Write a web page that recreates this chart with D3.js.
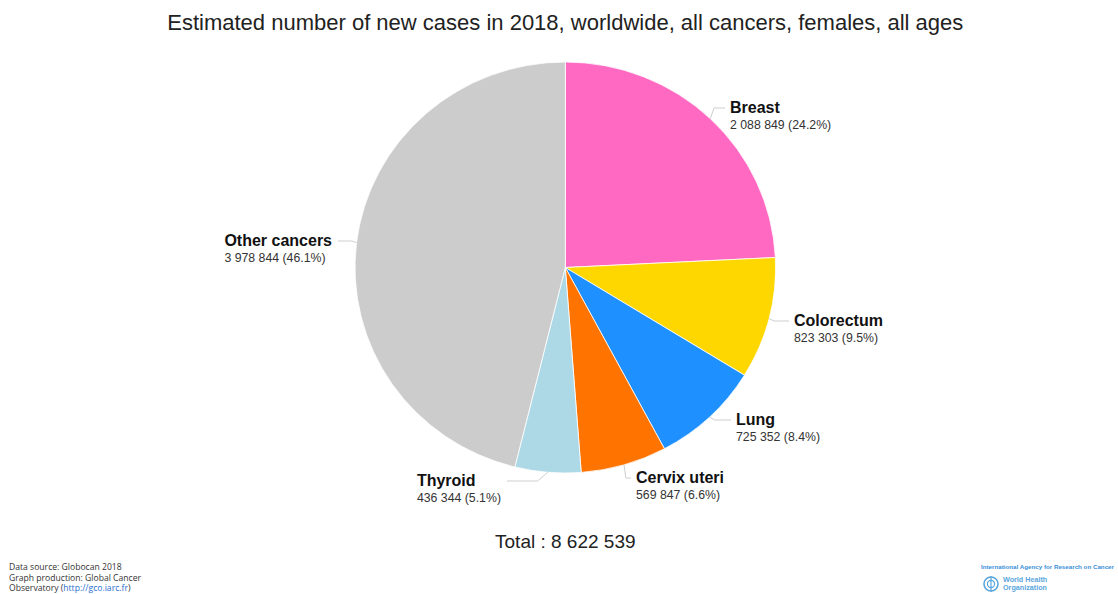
<!DOCTYPE html>
<html>
<head>
<meta charset="utf-8">
<script src="https://cdn.jsdelivr.net/npm/d3@7"></script>
<style>
  html, body { margin: 0; padding: 0; background: #ffffff; }
  svg { display: block; }
</style>
</head>
<body>
<script>
// Cancer sites, clockwise from 12 o'clock
const categories = ["Breast", "Colorectum", "Lung", "Cervix uteri", "Thyroid", "Other cancers"];
const cases = [2088849, 823303, 725352, 569847, 436344, 3978844];
const sliceColors = ["#ff69c1", "#ffd700", "#1e90ff", "#ff7300", "#add8e6", "#cccccc"];
const titleText = "Estimated number of new cases in 2018, worldwide, all cancers, females, all ages";
const totalCases = 8622539;

// Where each label's connector ends (label side, x, y)
const labelLayout = [
  { side: "right", x: 725, y: 108 },
  { side: "right", x: 789, y: 321 },
  { side: "right", x: 731, y: 420 },
  { side: "right", x: 631, y: 478 },
  { side: "left",  x: 507, y: 481 },
  { side: "left",  x: 338, y: 241 }
];

const W = 1118, H = 594;
const cx = 565.3, cy = 267.5;
const ry = 205.5, rx = 210.3;
const sx = rx / ry;

const fmt = n => String(n).replace(/\B(?=(\d{3})+(?!\d))/g, " ");
const pct = n => (n / totalCases * 100).toFixed(1) + "%";

const svg = d3.select("body").append("svg")
  .attr("width", W).attr("height", H)
  .style("font-family", "'Liberation Sans', Arial, sans-serif");

svg.append("text")
  .attr("x", cx).attr("y", 30)
  .attr("text-anchor", "middle")
  .attr("font-size", 22)
  .attr("fill", "#222")
  .text(titleText);

const pie = d3.pie().sort(null).value(d => d.value).startAngle(0).endAngle(2 * Math.PI);
const arcs = pie(categories.map((c, i) => ({ name: c, value: cases[i], color: sliceColors[i] })));
const arcGen = d3.arc().innerRadius(0).outerRadius(ry);

const g = svg.append("g").attr("transform", `translate(${cx},${cy}) scale(${sx},1)`);
g.selectAll("path").data(arcs).join("path")
  .attr("d", arcGen)
  .attr("fill", d => d.data.color)
  .attr("stroke", "#ffffff")
  .attr("stroke-width", 0.8)
  .attr("vector-effect", "non-scaling-stroke");

// Connectors: from the rim at each slice's mid angle, crook, then to label
const conn = svg.append("g");
arcs.forEach((d, i) => {
  const a = (d.startAngle + d.endAngle) / 2;
  const px = cx + rx * Math.sin(a);
  const py = cy - ry * Math.cos(a);
  const L = labelLayout[i];
  const bx = px + 0.25 * (L.x - px);
  conn.append("path")
    .attr("d", `M${px},${py}L${bx},${L.y}L${L.x},${L.y}`)
    .attr("fill", "none")
    .attr("stroke", "#cfcfcf")
    .attr("stroke-width", 1);

  const right = L.side === "right";
  const tx = right ? L.x + 5 : L.x - 6;
  const lab = svg.append("g");
  const nameT = lab.append("text")
    .attr("x", tx).attr("y", L.y + 5)
    .attr("font-size", 16).attr("font-weight", "bold").attr("fill", "#111")
    .text(d.data.name);
  const valT = lab.append("text")
    .attr("x", tx).attr("y", L.y + 21)
    .attr("font-size", 12.3).attr("fill", "#333")
    .text(`${fmt(d.data.value)} (${pct(d.data.value)})`);
  if (!right) {
    // Left-side labels: text block ends at the connector, left-aligned within block
    const w = Math.max(nameT.node().getComputedTextLength(), valT.node().getComputedTextLength());
    nameT.attr("x", tx - w);
    valT.attr("x", tx - w);
  }
});

svg.append("text")
  .attr("x", cx).attr("y", 548)
  .attr("text-anchor", "middle")
  .attr("font-size", 19)
  .attr("fill", "#222")
  .text("Total : " + fmt(totalCases));

// Source notes
const notes = svg.append("g")
  .style("font-family", "'Open Sans', 'Noto Sans', sans-serif")
  .attr("font-size", 8.6).attr("fill", "#333");
notes.append("text").attr("x", 9).attr("y", 570).text("Data source: Globocan 2018");
notes.append("text").attr("x", 9).attr("y", 581).text("Graph production: Global Cancer");
const l3 = notes.append("text").attr("x", 9).attr("y", 591);
l3.append("tspan").text("Observatory (");
l3.append("tspan").attr("fill", "#2a6fd0").text("http://gco.iarc.fr");
l3.append("tspan").text(")");

// Agency marks
const agency = svg.append("g").style("font-family", "'Liberation Sans', Arial, sans-serif");
agency.append("text")
  .attr("x", 1114).attr("y", 569)
  .attr("text-anchor", "end")
  .attr("font-size", 6.2).attr("font-weight", "bold").attr("fill", "#3a8fd8")
  .attr("textLength", 133).attr("lengthAdjust", "spacingAndGlyphs")
  .text("International Agency for Research on Cancer");
const emb = agency.append("g").attr("transform", "translate(991,584)");
emb.append("circle").attr("r", 7).attr("fill", "none").attr("stroke", "#5aa6dc").attr("stroke-width", 1.6);
emb.append("circle").attr("r", 3.6).attr("fill", "none").attr("stroke", "#5aa6dc").attr("stroke-width", 1.2);
emb.append("line").attr("x1", 0).attr("y1", -8).attr("x2", 0).attr("y2", 8).attr("stroke", "#5aa6dc").attr("stroke-width", 1.2);
agency.append("text").attr("x", 1003).attr("y", 582)
  .attr("font-size", 7.2).attr("font-weight", "bold").attr("fill", "#5aa6dc").text("World Health");
agency.append("text").attr("x", 1003).attr("y", 590)
  .attr("font-size", 7.2).attr("font-weight", "bold").attr("fill", "#5aa6dc").text("Organization");
</script>
</body>
</html>
